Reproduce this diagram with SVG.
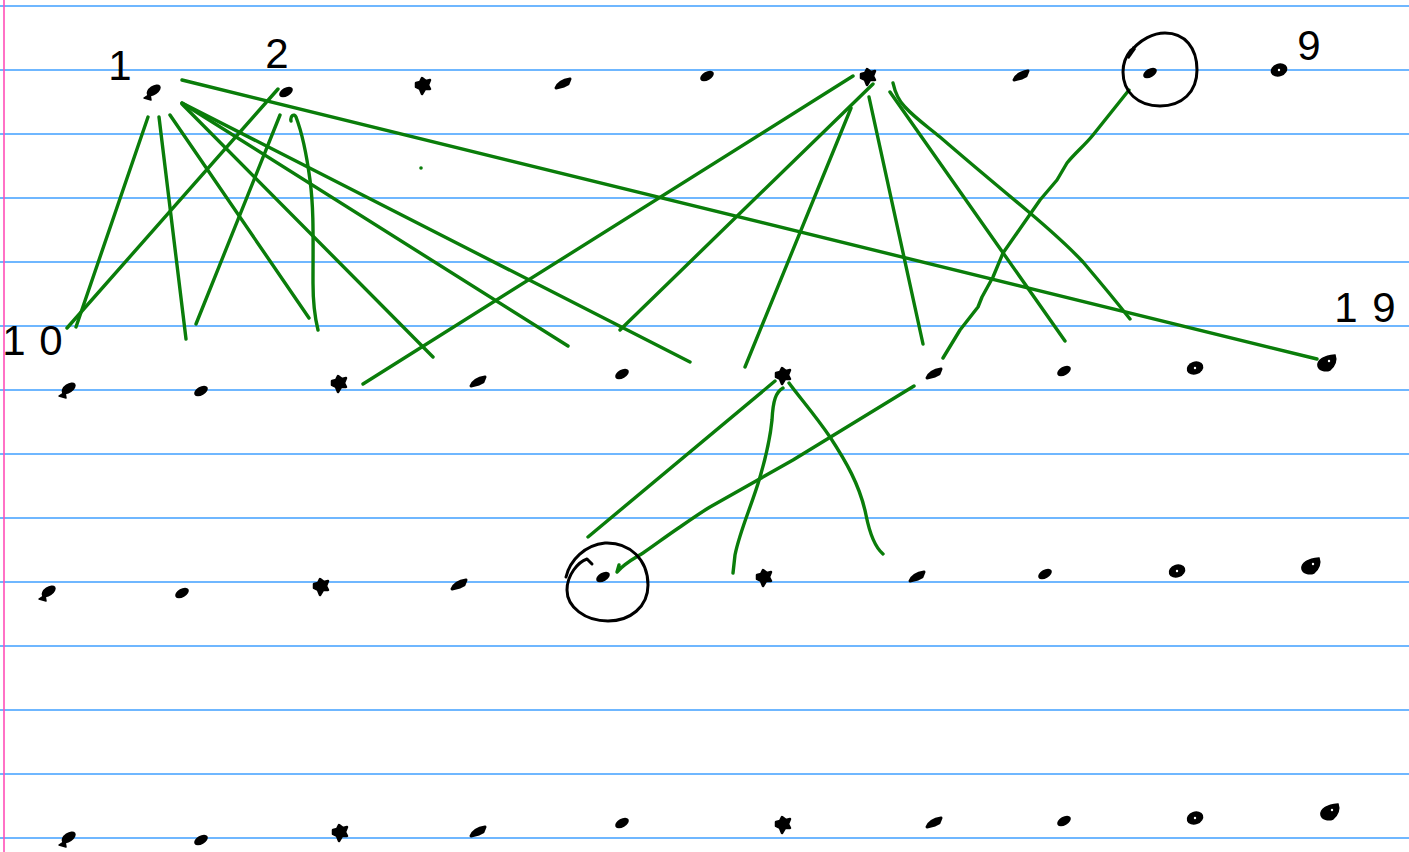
<svg xmlns="http://www.w3.org/2000/svg" xmlns:xlink="http://www.w3.org/1999/xlink" width="1409" height="852" viewBox="0 0 1409 852">
<style>
.rule{stroke:#3f9fff;stroke-width:1.6}
.margin{stroke:#ff4fb8;stroke-width:1.6}
.edge{fill:none;stroke:#0a7d0a;stroke-width:3.4;stroke-linecap:round;stroke-linejoin:round}
.ring{fill:none;stroke:#000;stroke-width:3;stroke-linecap:round;stroke-linejoin:round}
.lbl{font-family:"Liberation Sans","DejaVu Sans",sans-serif;font-size:42px;fill:#000}
.ink{fill:#000}
</style>
<defs>
<g id="dot"><ellipse rx="7.5" ry="4.3" transform="rotate(-30)" class="ink"/></g>
<g id="fish"><ellipse cx="1.5" cy="-1" rx="8" ry="4.6" transform="rotate(-35)" class="ink"/><path d="M-9,6 L-3,2 L-2,8 Z" class="ink" stroke="#000" stroke-width="1.5" stroke-linejoin="round"/></g>
<g id="hub"><path d="M-7,-3 L-3,-4 L-1,-8 L3,-5 L7,-6 L5,-1 L7,3 L2,3 L-1,8 L-3,3 L-7,1 Z" class="ink" stroke="#000" stroke-width="2.5" stroke-linejoin="round"/></g>
<g id="oval"><ellipse rx="8.5" ry="6.5" transform="rotate(-20)" class="ink"/><circle r="1.2" fill="#fff"/></g>
<g id="blob"><path d="M-10,3 C-11,-3 -4,-7 7,-8 C9,-3 7,3 2,7 C-3,9 -9,7 -10,3 Z" class="ink" stroke="#000" stroke-width="1.5"/><circle cx="1" cy="-2" r="1.2" fill="#fff"/></g>
<g id="hook"><path d="M-7,4 C-5,-1 1,-4 7,-5 L5,0 L1,2 Z" class="ink" stroke="#000" stroke-width="3" stroke-linejoin="round"/></g>
</defs>
<rect width="1409" height="852" fill="#fff"/>
<g id="paper">
<line class="rule" x1="0" y1="6" x2="1409" y2="6"/>
<line class="rule" x1="0" y1="70" x2="1409" y2="70"/>
<line class="rule" x1="0" y1="134" x2="1409" y2="134"/>
<line class="rule" x1="0" y1="198" x2="1409" y2="198"/>
<line class="rule" x1="0" y1="262" x2="1409" y2="262"/>
<line class="rule" x1="0" y1="326" x2="1409" y2="326"/>
<line class="rule" x1="0" y1="390" x2="1409" y2="390"/>
<line class="rule" x1="0" y1="454" x2="1409" y2="454"/>
<line class="rule" x1="0" y1="518" x2="1409" y2="518"/>
<line class="rule" x1="0" y1="582" x2="1409" y2="582"/>
<line class="rule" x1="0" y1="646" x2="1409" y2="646"/>
<line class="rule" x1="0" y1="710" x2="1409" y2="710"/>
<line class="rule" x1="0" y1="774" x2="1409" y2="774"/>
<line class="rule" x1="0" y1="838" x2="1409" y2="838"/>
<line class="margin" x1="4" y1="0" x2="4" y2="852"/>
</g>
<g id="connectors">
<path class="edge" d="M148,117 L76,327"/>
<path class="edge" d="M159,117 L186,339"/>
<path class="edge" d="M170,115 L309,318"/>
<path class="edge" d="M182,104 L433,357"/>
<path class="edge" d="M182,103 L568,346"/>
<path class="edge" d="M182,103 L690,362"/>
<path class="edge" d="M182,80 L1317,359"/>
<path class="edge" d="M278,89 L67,328"/>
<path class="edge" d="M280,115 L196,324"/>
<path class="edge" d="M291,121 C290,116 294,113 296,117 C301,130 306,150 310,180 C314,210 313,240 313,283 C313,305 315,318 318,330"/>
<path class="edge" d="M853,76 L363,384"/>
<path class="edge" d="M873,84 L620,330"/>
<path class="edge" d="M851,108 L745,367"/>
<path class="edge" d="M869,97 L923,344"/>
<path class="edge" d="M890,92 L1065,341"/>
<path class="edge" d="M893,83 C895,92 898,100 905,107 C915,118 928,127 940,137 C970,163 1000,188 1030,213 C1050,230 1070,248 1083,262 C1100,282 1115,300 1130,319"/>
<path class="edge" d="M1129,90 L1093,135 C1085,145 1075,153 1067,163 L1057,180 L1040,200 L1017,233 L1003,253 L993,277 L982,297 L978,307 L960,330 L943,358"/>
<path class="edge" d="M775,381 L588,537"/>
<path class="edge" d="M783,388 C776,392 773,400 772,420 C770,440 765,460 760,477 C752,505 740,530 735,555 L733,573"/>
<path class="edge" d="M789,383 C800,398 815,415 830,437 C845,460 860,485 866,515 C870,535 876,548 883,554"/>
<path class="edge" d="M914,386 L793,460 L710,507 C700,513 690,520 680,527 C665,537 655,545 643,553 C635,558 625,563 617,572 L619,565"/>
<circle cx="421" cy="168" r="1.8" fill="#0a7d0a"/>
</g>
<g id="marks">
<path class="ring" d="M1128,55 C1140,38 1155,33 1165,33 C1185,33 1197,48 1197,70 C1197,92 1182,106 1160,106 C1138,106 1123,92 1123,72 C1123,62 1126,56 1131,50"/>
<path d="M1126,57 L1133,46 L1136,49 L1129,59 Z" class="ink"/>
<path class="ring" d="M566,577 C570,560 585,545 605,543 C630,542 648,560 648,585 C648,607 630,621 608,621 C585,621 567,607 567,590 C567,575 578,562 587,559 L592,564"/>
</g>
<g id="labels">
<text class="lbl" x="120" y="80" text-anchor="middle">1</text>
<text class="lbl" x="277" y="68" text-anchor="middle">2</text>
<text class="lbl" x="14 51" y="355" text-anchor="middle" font-size="46">10</text>
<text class="lbl" x="1309" y="60" text-anchor="middle" font-size="52">9</text>
<text class="lbl" x="1346 1384" y="322" text-anchor="middle">19</text>
</g>
<g id="n1"><use xlink:href="#fish" x="153" y="92"/></g>
<g id="n2"><use xlink:href="#dot" x="286" y="92"/></g>
<g id="n3"><use xlink:href="#hub" x="423" y="86"/></g>
<g id="n4"><use xlink:href="#hook" x="563" y="84"/></g>
<g id="n5"><use xlink:href="#dot" x="707" y="76"/></g>
<g id="n6"><use xlink:href="#hub" x="868" y="77"/></g>
<g id="n7"><use xlink:href="#hook" x="1021" y="76"/></g>
<g id="n8"><use xlink:href="#dot" x="1150" y="73"/></g>
<g id="n9"><use xlink:href="#oval" x="1279" y="70"/></g>
<g id="n10"><use xlink:href="#fish" x="68" y="390"/></g>
<g id="n11"><use xlink:href="#dot" x="201" y="391"/></g>
<g id="n12"><use xlink:href="#hub" x="339" y="384"/></g>
<g id="n13"><use xlink:href="#hook" x="478" y="382"/></g>
<g id="n14"><use xlink:href="#dot" x="622" y="374"/></g>
<g id="n15"><use xlink:href="#hub" x="783" y="376"/></g>
<g id="n16"><use xlink:href="#hook" x="934" y="374"/></g>
<g id="n17"><use xlink:href="#dot" x="1064" y="371"/></g>
<g id="n18"><use xlink:href="#oval" x="1195" y="368"/></g>
<g id="n19"><use xlink:href="#blob" x="1328" y="363"/></g>
<g id="n20"><use xlink:href="#fish" x="48" y="593"/></g>
<g id="n21"><use xlink:href="#dot" x="182" y="593"/></g>
<g id="n22"><use xlink:href="#hub" x="321" y="587"/></g>
<g id="n23"><use xlink:href="#hook" x="459" y="585"/></g>
<g id="n24"><use xlink:href="#dot" x="603" y="577"/></g>
<g id="n25"><use xlink:href="#hub" x="764" y="578"/></g>
<g id="n26"><use xlink:href="#hook" x="917" y="577"/></g>
<g id="n27"><use xlink:href="#dot" x="1045" y="574"/></g>
<g id="n28"><use xlink:href="#oval" x="1177" y="571"/></g>
<g id="n29"><use xlink:href="#blob" x="1312" y="566"/></g>
<g id="n30"><use xlink:href="#fish" x="68" y="839"/></g>
<g id="n31"><use xlink:href="#dot" x="201" y="840"/></g>
<g id="n32"><use xlink:href="#hub" x="340" y="833"/></g>
<g id="n33"><use xlink:href="#hook" x="478" y="832"/></g>
<g id="n34"><use xlink:href="#dot" x="622" y="823"/></g>
<g id="n35"><use xlink:href="#hub" x="783" y="825"/></g>
<g id="n36"><use xlink:href="#hook" x="934" y="823"/></g>
<g id="n37"><use xlink:href="#dot" x="1064" y="821"/></g>
<g id="n38"><use xlink:href="#oval" x="1195" y="818"/></g>
<g id="n39"><use xlink:href="#blob" x="1331" y="812"/></g>
</svg>
